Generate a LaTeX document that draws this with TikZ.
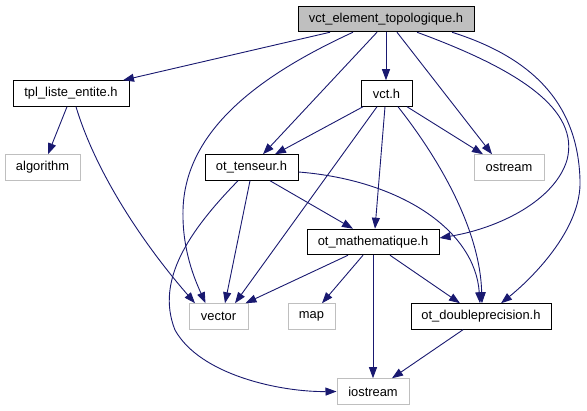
\documentclass[tikz,border=0pt]{standalone}
\usepackage{fontspec}
\setmainfont{Liberation Sans}
\usetikzlibrary{arrows.meta}
\definecolor{edgeblue}{HTML}{191970}
\definecolor{boxgray}{HTML}{BFBFBF}
\begin{document}
\begin{tikzpicture}[x=1pt,y=-1pt,
  nodebox/.style={draw=black,line width=1pt,minimum height=25.5pt,inner sep=0pt,font=\fontsize{12.9}{15}\selectfont},
  extbox/.style={nodebox,draw=boxgray},
  rootbox/.style={nodebox,fill=boxgray},
  dep/.style={draw=edgeblue,line width=0.9pt,-{Triangle[length=11pt,width=8pt]},fill=none}]
\useasboundingbox (0,0) rectangle (587,411);
\node[rootbox,minimum width=176pt] (top) at (386,19) {vct\_element\_topologique.h};
\node[nodebox,minimum width=116pt] (tpl) at (71,93.5) {tpl\_liste\_entite.h};
\node[nodebox,minimum width=51pt] (vct) at (386.5,93.5) {vct.h};
\node[extbox,minimum width=75pt] (algo) at (42.5,167.5) {algorithm};
\node[nodebox,minimum width=93pt] (tens) at (251.5,167.5) {ot\_tenseur.h};
\node[extbox,minimum width=70pt] (ostream) at (509,167.5) {ostream};
\node[nodebox,minimum width=132pt] (math) at (373,242) {ot\_mathematique.h};
\node[extbox,minimum width=59pt] (vector) at (218.5,316.5) {vector};
\node[extbox,minimum width=47pt] (map) at (311.5,316.5) {map};
\node[nodebox,minimum width=140pt] (dbl) at (481,316.5) {ot\_doubleprecision.h};
\node[extbox,minimum width=72pt] (iostream) at (373,391.5) {iostream};
% from root
\draw[dep] ([xshift=-56pt]top.south) -- ([xshift=52pt]tpl.north);
\draw[dep] ([xshift=-33pt]top.south) .. controls (260,75) and (185,130) .. (183,210) .. controls (182,250) and (195,280) .. ([xshift=-13pt]vector.north);
\draw[dep] ([xshift=-9pt]top.south) -- ([xshift=11.5pt]tens.north);
\draw[dep] (top.south) -- (top.south |- vct.north);
\draw[dep] ([xshift=11pt]top.south) -- ([xshift=-17pt]ostream.north);
\draw[dep] ([xshift=31pt]top.south) .. controls (520,70) and (580,110) .. (567,160) .. controls (555,200) and (500,228) .. ([yshift=4pt]math.east);
\draw[dep] ([xshift=66pt]top.south) .. controls (540,60) and (578,110) .. (580,180) .. controls (582,230) and (530,280) .. ([xshift=20pt]dbl.north);
% from vct
\draw[dep] ([xshift=-23.5pt]vct.south) -- ([xshift=23.5pt]tens.north);
\draw[dep] ([xshift=-9.5pt]vct.south) -- ([xshift=16.5pt]vector.north);
\draw[dep] ([xshift=-1.5pt]vct.south) -- ([xshift=2pt]math.north);
\draw[dep] ([xshift=11.5pt]vct.south) .. controls (440,160) and (480,230) .. ([xshift=1pt]dbl.north);
\draw[dep] ([xshift=20.5pt]vct.south) -- ([xshift=-26pt]ostream.north);
% from tpl
\draw[dep] ([xshift=-4pt]tpl.south) -- ([xshift=5.5pt]algo.north);
\draw[dep] ([xshift=5pt]tpl.south) .. controls (95,170) and (140,240) .. ([xshift=-23.5pt]vector.north);
% from ot_tenseur
\draw[dep] ([xshift=-13.5pt]tens.south) .. controls (190,230) and (155,280) .. (175,330) .. controls (200,375) and (280,392) .. (iostream.west);
\draw[dep] ([xshift=-1.5pt]tens.south) -- ([xshift=6.5pt]vector.north);
\draw[dep] ([xshift=18.5pt]tens.south) -- ([xshift=-20pt]math.north);
\draw[dep] ([yshift=-4.5pt]tens.east) .. controls (400,180) and (475,230) .. ([xshift=-1pt]dbl.north);
% from ot_mathematique
\draw[dep] ([xshift=-25pt]math.south) -- ([xshift=27pt]vector.north);
\draw[dep] ([xshift=-10pt]math.south) -- ([xshift=10.5pt]map.north);
\draw[dep] (math.south) -- (iostream.north);
\draw[dep] ([xshift=17pt]math.south) -- ([xshift=-21pt]dbl.north);
% from ot_doubleprecision
\draw[dep] ([xshift=-18pt]dbl.south) -- ([xshift=19pt]iostream.north);
\end{tikzpicture}
\end{document}
